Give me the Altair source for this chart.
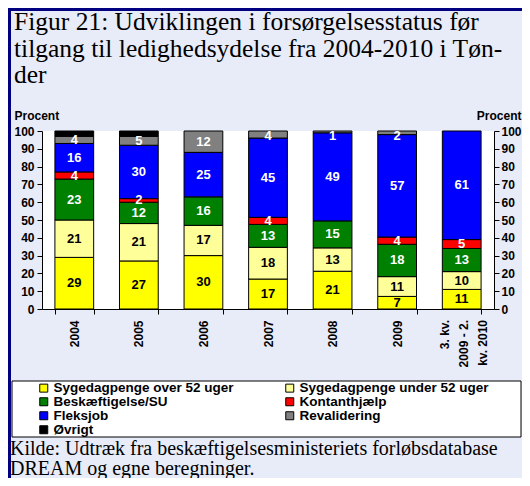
import altair as alt
import pandas as pd

categories = ["2004", "2005", "2006", "2007", "2008", "2009", "3. kv.|2009 - 2.|kv. 2010"]
series = ["Sygedagpenge over 52 uger", "Sygedagpenge under 52 uger", "Beskæftigelse/SU",
          "Kontanthjælp", "Fleksjob", "Revalidering", "Øvrigt"]
colors = ["#FFFF00", "#FFFF99", "#008000", "#FF0000", "#0000FF", "#808080", "#000000"]
# legend reading order (filled column by column, 4 rows)
legend_order = [0, 2, 4, 6, 1, 3, 5]

sygedagpenge_over = [29, 27, 30, 17, 21, 7, 11]
sygedagpenge_under = [21, 21, 17, 18, 13, 11, 10]
beskaeftigelse = [23, 12, 16, 13, 15, 18, 13]
kontanthjaelp = [4, 2, 0, 4, 0, 4, 5]
fleksjob = [16, 30, 25, 45, 49, 57, 61]
revalidering = [4, 5, 12, 4, 1, 2, 0]
oevrigt = [3, 3, 0, 0, 0, 0, 0]

title_lines = ["Figur 21: Udviklingen i forsørgelsesstatus før",
               "tilgang til ledighedsydelse fra 2004-2010 i Tøn-",
               "der"]
caption_lines = ["Kilde: Udtræk fra beskæftigelsesministeriets forløbsdatabase",
                 "DREAM og egne beregninger."]

all_values = [sygedagpenge_over, sygedagpenge_under, beskaeftigelse,
              kontanthjaelp, fleksjob, revalidering, oevrigt]
rows = []
for si, (name, vals) in enumerate(zip(series, all_values)):
    for ci, cat in enumerate(categories):
        rows.append({"category": cat, "series": name, "order": si, "value": vals[ci]})
df = pd.DataFrame(rows)

SANS = "Liberation Sans"
SERIF = "Liberation Serif"
BG = "#E8EBF8"
NAVY = "#000080"

W, H = 452, 178
PAD_L, PAD_T = 34, 123
TOTAL_W, TOTAL_H = 514, 470

base = (alt.Chart(df)
        .transform_joinaggregate(total="sum(value)", groupby=["category"])
        .transform_calculate(pct="datum.value / datum.total * 100")
        .transform_stack(stack="pct", groupby=["category"],
                         sort=[alt.SortField("order", order="ascending")], as_=["y0", "y1"])
        .transform_calculate(mid="min((datum.y0 + datum.y1) / 2, 97)"))

x_enc = alt.X("category:N", sort=categories, title=None,
              scale=alt.Scale(paddingInner=0.4, paddingOuter=0.2),
              axis=alt.Axis(labelAngle=270,
                            labelExpr="indexof(datum.label, '|') >= 0 ? '' : datum.label",
                            labelFont=SANS, labelFontSize=12, labelFontWeight="bold",
                            labelColor="black", labelOverlap=False,
                            tickBand="extent", tickSize=5, tickColor="black",
                            domainColor="black", labelPadding=6))

yscale = alt.Scale(domain=[0, 100], nice=False)

def y_axis(orient, tx, talign, lpad):
    return alt.Axis(orient=orient, values=list(range(0, 101, 10)), title="Procent",
                    titleAngle=0, titleAlign=talign, titleBaseline="alphabetic",
                    titleX=tx, titleY=-12, titleFont=SANS, titleFontSize=12,
                    titleFontWeight="bold", titleColor="black",
                    labelFont=SANS, labelFontSize=12, labelFontWeight="bold",
                    labelColor="black", tickColor="black", domainColor="black",
                    tickSize=5, labelPadding=lpad, grid=False)

leg_domain = [series[i] for i in legend_order]
leg_range = [colors[i] for i in legend_order]

bars = base.transform_filter("datum.value > 0").mark_bar(stroke="black", strokeWidth=1).encode(
    x=x_enc,
    y=alt.Y("y0:Q", scale=yscale, axis=y_axis("left", -28, "left", 3)),
    y2="y1:Q",
    color=alt.Color("series:N", scale=alt.Scale(domain=leg_domain, range=leg_range),
                    legend=alt.Legend(title=None, orient="none", legendX=-5, legendY=250,
                                      direction="vertical", columns=2, columnPadding=49,
                                      rowPadding=-1.5, symbolType="square", symbolSize=64,
                                      symbolStrokeColor="black", symbolStrokeWidth=1,
                                      labelFont=SANS, labelFontSize=13.5, labelFontWeight="bold",
                                      labelColor="black", labelLimit=400, labelOffset=3,
                                      padding=0)),
)

labels = base.transform_filter("datum.value > 0 && datum.series != 'Øvrigt'").mark_text(
    font=SANS, fontSize=13, fontWeight="bold", baseline="middle", align="center"
).encode(
    x=x_enc,
    y=alt.Y("mid:Q", scale=yscale, axis=y_axis("right", TOTAL_W - PAD_L - W - 1, "right", 2)),
    text="value:Q",
    color=alt.condition("datum.order <= 1", alt.value("black"), alt.value("white")),
)

# multi-line category label drawn as text so its lines can be placed like the original
xlab = alt.Chart(pd.DataFrame({"category": categories})).transform_filter(
    "indexof(datum.category, '|') >= 0"
).transform_calculate(lines="split(datum.category, '|')").mark_text(
    angle=270, align="right", baseline="middle", font=SANS, fontSize=12,
    fontWeight="bold", lineHeight=19, dy=-17, color="black"
).encode(x=x_enc, y=alt.value(H + 11), text="lines:N")

one = pd.DataFrame({"d": [0]})

title = alt.Chart(one).mark_text(
    text=title_lines, font=SERIF, fontSize=25.5, lineHeight=26.5, align="left",
    baseline="alphabetic", color="black"
).encode(x=alt.value(6 - PAD_L), y=alt.value(22 - PAD_T))

caption = alt.Chart(one).mark_text(
    text=caption_lines, font=SERIF, fontSize=20, lineHeight=20, align="left",
    baseline="alphabetic", color="black"
).encode(x=alt.value(2 - PAD_L), y=alt.value(447 - PAD_T))

legend_box = alt.Chart(one).mark_rect(fill="white", stroke="black", strokeWidth=1).encode(
    x=alt.value(4 - PAD_L), x2=alt.value(TOTAL_W - 1 - PAD_L),
    y=alt.value(373 - PAD_T), y2=alt.value(429 - PAD_T))

border_left = alt.Chart(one).mark_rule(color=NAVY, strokeWidth=3).encode(
    x=alt.value(1.5 - PAD_L), y=alt.value(-PAD_T), y2=alt.value(TOTAL_H - PAD_T))
border_top = alt.Chart(one).mark_rule(color=NAVY, strokeWidth=3).encode(
    x=alt.value(-PAD_L), x2=alt.value(TOTAL_W - PAD_L), y=alt.value(1.5 - PAD_T))

chart = alt.layer(legend_box, bars, labels, xlab, title, caption,
                  border_left, border_top).resolve_axis(
    y="independent"
).properties(
    width=W, height=H,
    padding={"left": PAD_L, "top": PAD_T, "right": TOTAL_W - PAD_L - W,
             "bottom": TOTAL_H - PAD_T - H},
    autosize=alt.AutoSizeParams(type="none"),
    background=BG,
).configure_view(fill="white", strokeWidth=0)

chart.save("out.html", embed_options={"renderer": "svg", "actions": False})
